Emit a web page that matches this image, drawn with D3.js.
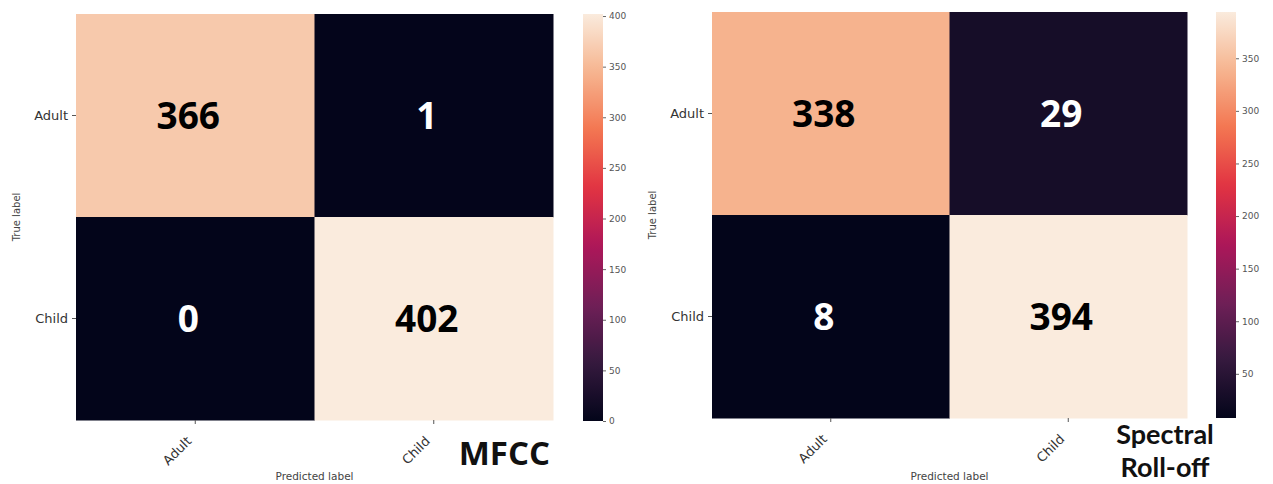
<!DOCTYPE html>
<html>
<head>
<meta charset="utf-8">
<script src="https://cdn.jsdelivr.net/npm/d3@7"></script>
<style>
  html, body { margin: 0; padding: 0; background: #ffffff; }
  svg { display: block; }
</style>
</head>
<body>
<svg id="chart" width="1273" height="484"></svg>
<script>
// Class labels shared by both confusion matrices
const classLabels = ["Adult", "Child"];

// Confusion matrices: rows = true label, columns = predicted label
const mfccMatrix = [[366, 1], [0, 402]];
const rolloffMatrix = [[338, 29], [8, 394]];

// Colorbar tick values
const mfccTicks = [0, 50, 100, 150, 200, 250, 300, 350, 400];
const rolloffTicks = [50, 100, 150, 200, 250, 300, 350];

// Panel captions
const mfccCaption = ["MFCC"];
const rolloffCaption = ["Spectral", "Roll-off"];

// Seaborn "rocket" colormap anchor colours
const rocketStops = ["#03051a", "#35193e", "#701f57", "#ad1759", "#e13342", "#f37651", "#f6b48f", "#faebdd"];
const rocket = d3.piecewise(d3.interpolateRgb, rocketStops);

const svg = d3.select("#chart");
const defs = svg.append("defs");

function drawPanel(opts) {
  const { matrix, ticks, caption, box, cb, id } = opts;
  const values = matrix.flat();
  const vmin = d3.min(values), vmax = d3.max(values);
  const color = d3.scaleSequential(rocket).domain([vmin, vmax]);

  const x = d3.scaleBand().domain(classLabels).range([box.left, box.right]);
  const y = d3.scaleBand().domain(classLabels).range([box.top, box.bottom]);

  const cells = [];
  matrix.forEach((row, i) => row.forEach((v, j) => cells.push({ t: classLabels[i], p: classLabels[j], v })));

  const g = svg.append("g");

  // heatmap cells
  g.selectAll("rect.cell").data(cells).join("rect")
    .attr("class", "cell")
    .attr("x", d => x(d.p))
    .attr("y", d => y(d.t))
    .attr("width", x.bandwidth() + 0.5)
    .attr("height", y.bandwidth() + 0.5)
    .attr("fill", d => color(d.v));

  // cell annotations
  g.selectAll("text.ann").data(cells).join("text")
    .attr("class", "ann")
    .attr("x", d => x(d.p) + x.bandwidth() / 2 - 7)
    .attr("y", d => y(d.t) + y.bandwidth() / 2)
    .attr("dy", "0.36em")
    .attr("text-anchor", "middle")
    .attr("font-family", "'Open Sans', sans-serif")
    .attr("font-weight", 700)
    .attr("font-size", 37)
    .attr("fill", d => (d.v - vmin) / (vmax - vmin) > 0.5 ? "#000000" : "#ffffff")
    .text(d => d.v);

  // y axis (true label)
  const yAxis = g.append("g")
    .attr("transform", `translate(${box.left},0)`)
    .call(d3.axisLeft(y).tickSize(4).tickPadding(4));
  yAxis.select(".domain").remove();
  yAxis.selectAll(".tick line").attr("stroke", "#555");
  yAxis.selectAll(".tick text")
    .attr("font-family", "'DejaVu Sans', sans-serif")
    .attr("font-size", 13)
    .attr("fill", "#333");

  // x axis (predicted label), rotated tick labels
  const xAxis = g.append("g")
    .attr("transform", `translate(0,${box.bottom})`)
    .call(d3.axisBottom(x).tickSize(4).tickPadding(4));
  xAxis.select(".domain").remove();
  xAxis.selectAll(".tick line").attr("stroke", "#555");
  xAxis.selectAll(".tick text")
    .attr("font-family", "'DejaVu Sans', sans-serif")
    .attr("font-size", 13)
    .attr("fill", "#333")
    .attr("text-anchor", "end")
    .attr("dy", null)
    .attr("y", null)
    .attr("transform", "translate(-3,22) rotate(-45)");

  // axis titles
  g.append("text")
    .attr("transform", `translate(${box.left - 56},${(box.top + box.bottom) / 2}) rotate(-90)`)
    .attr("text-anchor", "middle")
    .attr("font-family", "'DejaVu Sans', sans-serif")
    .attr("font-size", 10)
    .attr("fill", "#444")
    .text("True label");
  g.append("text")
    .attr("x", (box.left + box.right) / 2)
    .attr("y", 480)
    .attr("text-anchor", "middle")
    .attr("font-family", "'DejaVu Sans', sans-serif")
    .attr("font-size", 10.5)
    .attr("fill", "#444")
    .text("Predicted label");

  // colorbar
  const gradId = "grad-" + id;
  const grad = defs.append("linearGradient")
    .attr("id", gradId)
    .attr("x1", "0").attr("y1", "1").attr("x2", "0").attr("y2", "0");
  d3.range(0, 1.0001, 0.02).forEach(t => {
    grad.append("stop").attr("offset", t).attr("stop-color", rocket(t));
  });
  const cbScale = d3.scaleLinear().domain([vmin, vmax]).range([cb.bottom, cb.top]);
  g.append("rect")
    .attr("x", cb.left)
    .attr("y", cb.top)
    .attr("width", cb.right - cb.left)
    .attr("height", cb.bottom - cb.top)
    .attr("fill", `url(#${gradId})`);
  const cAxis = g.append("g")
    .attr("transform", `translate(${cb.right},0)`)
    .call(d3.axisRight(cbScale).tickValues(ticks).tickSize(3).tickPadding(3));
  cAxis.select(".domain").remove();
  cAxis.selectAll(".tick line").attr("stroke", "#666");
  cAxis.selectAll(".tick text")
    .attr("font-family", "'DejaVu Sans', sans-serif")
    .attr("font-size", 9)
    .attr("fill", "#555");

  // caption, one text element per line
  caption.forEach((line, i) => {
    g.append("text")
      .attr("font-family", opts.captionFont)
      .attr("font-weight", 700)
      .attr("fill", "#111")
      .attr("text-anchor", opts.captionAnchor)
      .attr("font-size", opts.captionSize)
      .attr("x", opts.captionX)
      .attr("y", opts.captionY + i * opts.captionLead)
      .text(line);
  });
}

drawPanel({
  id: "mfcc",
  matrix: mfccMatrix,
  ticks: mfccTicks,
  caption: mfccCaption,
  box: { left: 76, right: 553, top: 14, bottom: 420 },
  cb: { left: 583, right: 603, top: 14, bottom: 421 },
  captionFont: "'Open Sans', sans-serif",
  captionAnchor: "end", captionX: 550, captionY: 465, captionSize: 33, captionLead: 0
});

drawPanel({
  id: "rolloff",
  matrix: rolloffMatrix,
  ticks: rolloffTicks,
  caption: rolloffCaption,
  box: { left: 712, right: 1187, top: 12, bottom: 418 },
  cb: { left: 1216, right: 1236, top: 12, bottom: 418 },
  captionFont: "Lato, sans-serif",
  captionAnchor: "middle", captionX: 1165, captionY: 444, captionSize: 27, captionLead: 33
});
</script>
</body>
</html>
